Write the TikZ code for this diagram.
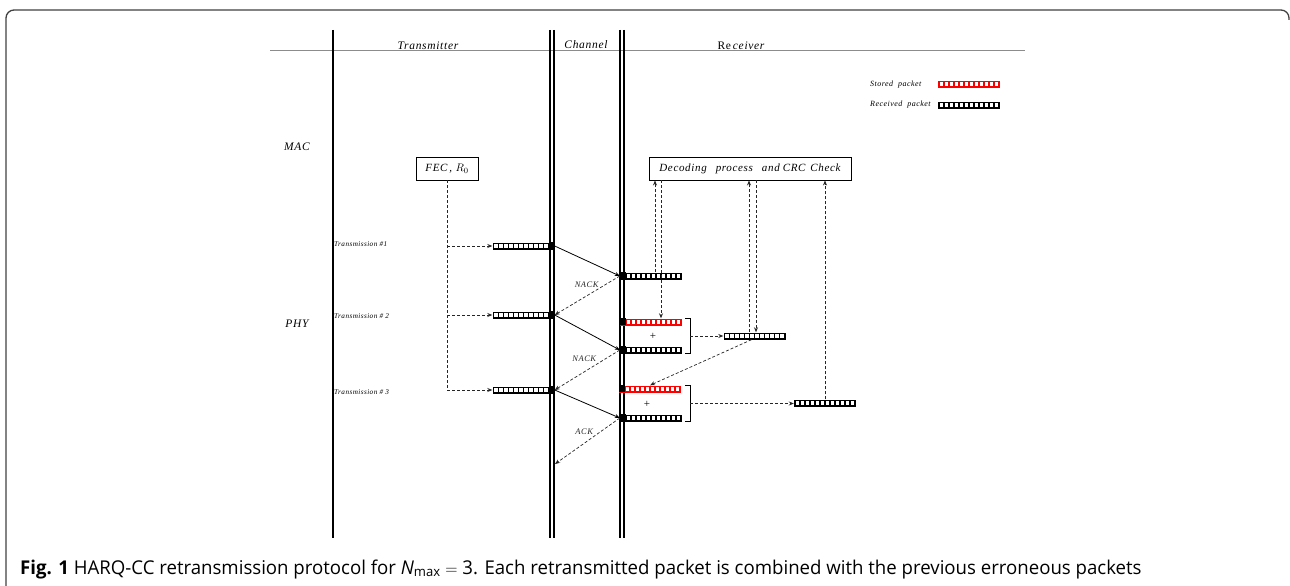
\documentclass[tikz,border=0pt]{standalone}
\usepackage{fontspec}
\setmainfont[LetterSpace=6]{Liberation Serif}
\newfontfamily\capfont{Open Sans}
\usetikzlibrary{arrows.meta,calc}

\begin{document}
\begin{tikzpicture}[x=1pt,y=-1pt,
  tip/.style={-{Stealth[length=5pt,width=4pt]}},
  dsh/.style={densely dashed, line width=0.7pt, black!85, tip},
  sol/.style={line width=0.8pt, tip},
  vline/.style={line width=1.1pt},
  lbl/.style={font=\itshape\fontsize{11.5}{13}\selectfont, inner sep=0},
  tiny/.style={font=\itshape\fontsize{7.2}{8}\selectfont, inner sep=0},
  leg/.style={font=\itshape\fontsize{8}{10}\selectfont, inner sep=0, anchor=west},
  fb/.style={font=\itshape\fontsize{8.5}{10}\selectfont, inner sep=0, anchor=east, xshift=-6pt},
  box/.style={draw, line width=0.9pt, inner sep=0, minimum height=23pt,
              font=\itshape\fontsize{11}{13}\selectfont},
  packet/.style={fill=#1, inner sep=0, minimum width=62pt, minimum height=7pt,
    path picture={\foreach \k in {0,...,11}{
      \pgfmathsetmacro{\dx}{1.8+\k*5}
      \fill[white] ([xshift=\dx pt, yshift=1.6pt]path picture bounding box.south west)
        rectangle ++(3.3pt,3.8pt);}}},
  packet/.default=black,
  plus/.style={font=\fontsize{11}{12}\selectfont, inner sep=0},
]
\useasboundingbox (0,0) rectangle (1290,586);

% outer frame
\draw[line width=1.3pt, black!75, rounded corners=8pt]
  (6,590) -- (6,10) -- (1289,10) -- (1289,20);

% header rule and layer separators
\draw[line width=0.8pt, black!45] (270,50) -- (1025,50);
\draw[vline] (333,30) -- (333,538);
\draw[vline] (550,30) -- (550,538);
\draw[vline] (554,30) -- (554,538);
\draw[vline] (620,30) -- (620,538);
\draw[vline] (624,30) -- (624,538);

\node[lbl] (hTx) at (428,46) {Transmitter};
\node[lbl] (hCh) at (586,45) {Channel};
\node[lbl] (hRx) at (741,46) {{\upshape Re}\,ceiver};
\node[lbl] (mac) at (297,147) {MAC};
\node[lbl] (phy) at (297,324) {PHY};

% legend
\node[leg] (lgS) at (870,85) {Stored\ \ packet};
\node[packet=red] (pS) at (969,84) {};
\node[leg] (lgR) at (870,105) {Received\ \ packet};
\node[packet] (pR) at (969,105) {};

% transmitter side
\node[box, minimum width=62pt] (fec) at (447,168.5) {FEC\,, $R_0$};
\node[tiny, anchor=west] (tx1) at (334,244) {Transmission \#1};
\node[tiny, anchor=west] (tx2) at (334,316) {Transmission \# 2};
\node[tiny, anchor=west] (tx3) at (334,392) {Transmission \# 3};

\node[packet] (t1) at (523.5,246) {};
\node[packet] (t2) at (523.5,315) {};
\node[packet] (t3) at (523.5,390) {};
\foreach \p in {t1,t2,t3} \fill (\p.north east) rectangle ++(-6pt,-7pt);

\draw[dsh] (fec.south) |- (t3.west);
\draw[dsh] (fec.south |- t1.west) -- (t1.west);
\draw[dsh] (fec.south |- t2.west) -- (t2.west);

% receiver side
\node[box, minimum width=202pt] (dec) at (750,168.5)
  {Decoding\hspace{9pt}process\hspace{9pt}and\hspace{3pt}CRC\hspace{5pt}Check};

\node[packet] (r1) at (651,276) {};
\node[packet=red] (s1) at (651,322) {};
\node[packet] (r2) at (651,350) {};
\node[packet=red] (s2) at (650,389) {};
\node[packet] (r3) at (651,418) {};
\foreach \p in {r1,s1,r2,s2,r3} \fill (\p.north west) rectangle ++(6pt,-7pt);

\node[packet] (c1) at (754.5,336) {};
\node[packet] (c2) at (825,403) {};

\node[plus] (pl1) at (653,336) {+};
\node[plus] (pl2) at (647,404) {+};

% combining brackets
\draw[line width=0.8pt] ([xshift=3pt]s1.north east) -- ++(5pt,0)
  |- ([xshift=3pt]r2.south east);
\draw[line width=0.8pt] ([xshift=4pt]s2.north east) -- ++(5pt,0)
  |- ([xshift=3pt]r3.south east);
\coordinate (b1) at ($([xshift=8pt]s1.north east)!0.5!([xshift=8pt]r2.south east)$);
\coordinate (b2) at ($([xshift=9pt]s2.north east)!0.5!([xshift=8pt]r3.south east)$);
\draw[dsh] (b1) -- (b1 -| c1.west);
\draw[dsh] (b2) -- (b2 -| c2.west);

% channel transmissions and feedback
\draw[sol] (t1.east) -- (r1.west);
\draw[sol] (t2.east) -- (r2.west);
\draw[sol] (t3.east) -- (r3.west);
\draw[dsh] (r1.west) -- node[pos=0.23, fb] {NACK} (t2.east);
\draw[dsh] (r2.west) -- node[pos=0.22, fb, xshift=-3pt] {NACK} (t3.east);
\coordinate (ackEnd) at (555,464);
\draw[dsh] (r3.west) -- node[pos=0.3, fb, xshift=-1pt] {ACK} (ackEnd);

% decoding feedback paths
\draw[dsh] ([xshift=4pt]r1.north) -- ([xshift=4pt]r1.north |- dec.south);
\draw[dsh] ([xshift=10pt]r1.north |- dec.south) -- ([xshift=10pt]s1.north);
\draw[dsh] ([xshift=-5.5pt]c1.north) -- ([xshift=-5.5pt]c1.north |- dec.south);
\draw[dsh] ([xshift=1.5pt]c1.north |- dec.south) -- ([xshift=1.5pt]c1.north);
\draw[dsh] ([xshift=-3pt]c1.south) -- (s2.north);
\draw[dsh] (c2.north) -- (c2.north |- dec.south);

% caption
\node[anchor=base west, inner sep=0] (cap) at (20,574)
  {\scalebox{0.98}[1]{\capfont\fontsize{19}{22}\selectfont
   \textbf{Fig. 1} HARQ-CC retransmission protocol for {\itshape N}\textsubscript{max} $=$ 3. Each retransmitted packet is combined with the previous erroneous packets}};
\end{tikzpicture}
\end{document}
